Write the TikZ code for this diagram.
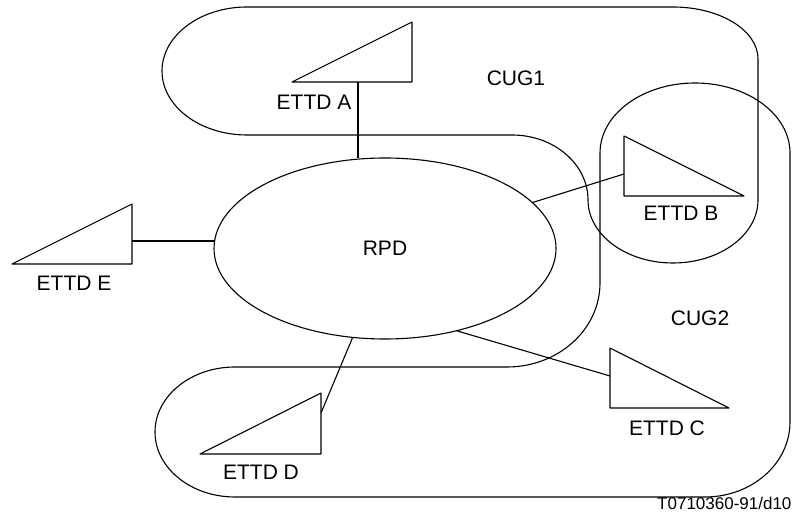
\documentclass[tikz,border=0pt]{standalone}
\usepackage{fontspec}
\setmainfont{Liberation Sans}
\usetikzlibrary{shapes.geometric}
\begin{document}
\begin{tikzpicture}[x=1pt,y=1pt,line width=1.1pt,line join=round,
  lbl/.style={inner sep=0pt,font=\fontsize{21}{25}\selectfont},
  idlbl/.style={inner sep=0pt,font=\fontsize{17}{20}\selectfont,anchor=east},
  outline/.style={draw,line width=1.1pt},
  term/.style={draw,line width=1.1pt}]
\useasboundingbox (0,0) rectangle (794,524);
% CUG1 outline
\draw[outline] (247,517) -- (673,517)
  arc[start angle=90,end angle=0,x radius=85,y radius=52]
  -- (758,324)
  arc[start angle=0,end angle=-90,x radius=85,y radius=63]
  arc[start angle=-90,end angle=-180,x radius=85,y radius=63]
  arc[start angle=0,end angle=90,x radius=76,y radius=65]
  -- (247,389)
  arc[start angle=-90,end angle=-270,x radius=85,y radius=64]
  -- cycle;
% CUG2 outline
\draw[outline] (600,371) -- (600,241)
  arc[start angle=0,end angle=-90,x radius=93,y radius=84]
  -- (235,157)
  arc[start angle=90,end angle=270,x radius=80,y radius=65]
  -- (705,27)
  arc[start angle=-90,end angle=0,x radius=85,y radius=75]
  -- (790,371)
  arc[start angle=0,end angle=180,x radius=95,y radius=70]
  -- cycle;
% RPD
\node[draw,ellipse,inner sep=0pt,outer sep=0pt,minimum width=342pt,minimum height=181pt,
  font=\fontsize{21}{25}\selectfont] (rpd) at (385,275.5) {RPD};
% terminals
\draw[term] (292,442) -- (412,502) -- (412,442) -- cycle;
\coordinate (a1) at (358,442);
\draw[term] (624,388) -- (744,328) -- (624,328) -- cycle;
\coordinate (b1) at (624,350);
\draw[term] (610,176) -- (729,116) -- (610,116) -- cycle;
\coordinate (c1) at (610,148);
\draw[term] (200,70) -- (321,131) -- (321,70) -- cycle;
\coordinate (d1) at (321,111);
\draw[term] (12,260) -- (132,320) -- (132,260) -- cycle;
\coordinate (e1) at (132,283);
% connectors
\draw (a1) -- (a1 |- rpd.north);
\draw (b1) -- (rpd);
\draw (c1) -- (rpd.-49);
\draw (d1) -- (rpd.-110);
\draw (e1) -- (rpd.west |- e1);
% labels
\node[lbl] (la) at (314,422) {ETTD A};
\node[lbl] (lb) at (681,311) {ETTD B};
\node[lbl] (lc) at (667,96) {ETTD C};
\node[lbl] (ld) at (261,52) {ETTD D};
\node[lbl] (le) at (74,241) {ETTD E};
\node[lbl] (cug1) at (516,446) {CUG1};
\node[lbl] (cug2) at (700,206) {CUG2};
\node[idlbl] (fid) at (792,21) {T0710360-91/d10};
\end{tikzpicture}
\end{document}
